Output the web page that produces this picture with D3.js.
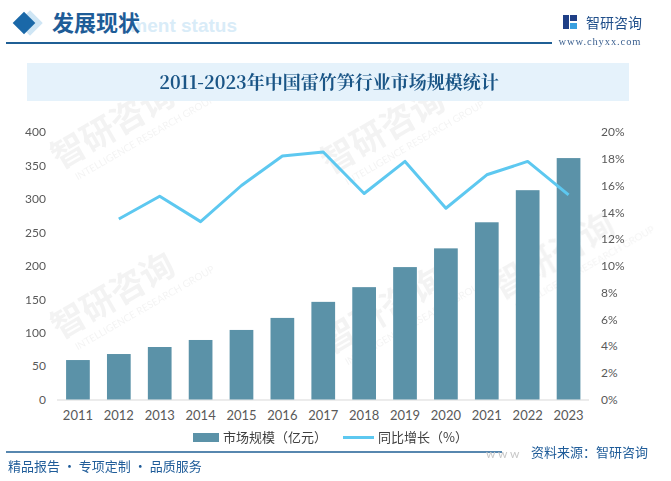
<!DOCTYPE html>
<html><head><meta charset="utf-8">
<script src="https://cdn.jsdelivr.net/npm/d3@7"></script>
<style>body{margin:0;background:#fff}svg{display:block}</style>
</head><body>
<script>
const years = ["2011","2012","2013","2014","2015","2016","2017","2018","2019","2020","2021","2022","2023"];
const marketSize = [59, 68, 78.5, 89, 104, 122, 146, 168, 198, 226, 265, 313, 361];
const growth = [null, 13.5, 15.2, 13.3, 16.0, 18.2, 18.5, 15.4, 17.8, 14.3, 16.8, 17.8, 15.3];
const leftTicks = [0,50,100,150,200,250,300,350,400];
const rightTicks = [0,2,4,6,8,10,12,14,16,18,20];

const W=671,H=481;
const svg=d3.select("body").append("svg").attr("width",W).attr("height",H);
const cjk='"Noto Sans CJK SC","Noto Sans",sans-serif';
const lat='Lato,"Noto Sans",sans-serif';

// watermarks (faint)
const wm=svg.append("g").attr("opacity",0.07);
[[60,170],[330,175],[60,340],[330,355],[500,300]].forEach(([x,y])=>{
  const g=wm.append("g").attr("transform",`translate(${x},${y}) rotate(-30)`);
  g.append("text").text("智研咨询").attr("font-family",cjk).attr("font-size",34).attr("fill","#555").attr("font-weight","bold");
  g.append("text").text("INTELLIGENCE RESEARCH GROUP").attr("y",18).attr("x",10).attr("font-family",lat).attr("font-size",10).attr("fill","#555");
});

// header
svg.append("rect").attr("x",-9).attr("y",-9).attr("width",18).attr("height",18).attr("fill","#cfe6f5").attr("transform","translate(30,23) rotate(45)");
svg.append("rect").attr("x",-8).attr("y",-8).attr("width",16).attr("height",16).attr("fill","#1a68a8").attr("transform","translate(24,23) rotate(45)");
svg.append("text").text("ment status").attr("x",237).attr("y",32).attr("text-anchor","end")
  .attr("font-family",'"Liberation Sans",Arial,sans-serif').attr("font-weight","bold").attr("font-size",19).attr("fill","#d9ecf8");
svg.append("text").text("发展现状").attr("x",52).attr("y",31).attr("font-family",cjk).attr("font-weight","bold").attr("font-size",22).attr("fill","#1e5c97");
svg.append("line").attr("x1",6).attr("x2",552).attr("y1",43).attr("y2",43).attr("stroke","#1f5f95").attr("stroke-width",2);
// logo
const lg=svg.append("g").attr("transform","translate(563,15)");
lg.append("rect").attr("width",6).attr("height",14).attr("fill","#1f3f86");
lg.append("rect").attr("x",7).attr("width",7).attr("height",6).attr("fill","#1f3f86");
lg.append("rect").attr("x",7).attr("y",8).attr("width",7).attr("height",6).attr("fill","#39a0e0");
svg.append("text").text("智研咨询").attr("x",586).attr("y",28).attr("font-family",cjk).attr("font-size",14).attr("fill","#1f4e8a");
svg.append("text").text("www.chyxx.com").attr("x",600).attr("y",45).attr("text-anchor","middle").attr("font-family",'"Liberation Serif",serif').attr("font-size",10.5).attr("fill","#3a5f8f").attr("letter-spacing",0.9);

// title box
svg.append("rect").attr("x",27).attr("y",63).attr("width",602).attr("height",38).attr("fill","#e5f2fb");
svg.append("text").text("2011-2023年中国雷竹笋行业市场规模统计").attr("x",329).attr("y",89).attr("text-anchor","middle")
  .attr("font-family",'"Noto Serif CJK SC","Liberation Serif",'+cjk).attr("font-weight","bold").attr("font-size",18).attr("fill","#1a5586");

// scales
const x=d3.scaleBand().domain(years).range([57.5,589]).paddingInner(0.42).paddingOuter(0.21);
const yL=d3.scaleLinear().domain([0,400]).range([399.5,132]);
const yR=d3.scaleLinear().domain([0,20]).range([399.5,132]);

const axL=svg.append("g").attr("transform","translate(50,0)")
  .call(d3.axisLeft(yL).tickValues(leftTicks).tickSize(0).tickPadding(4));
const axR=svg.append("g").attr("transform","translate(597,0)")
  .call(d3.axisRight(yR).tickValues(rightTicks).tickSize(0).tickPadding(4).tickFormat(d=>d+"%"));
const axB=svg.append("g").attr("transform","translate(0,399.5)")
  .call(d3.axisBottom(x).tickSize(0).tickPadding(11));
[axL,axR,axB].forEach(a=>{a.select(".domain").remove();a.selectAll("text").attr("font-family",lat).attr("font-size",12).attr("fill","#595959");});
axB.selectAll("text").attr("font-size",13);
svg.append("line").attr("x1",57).attr("x2",589).attr("y1",400).attr("y2",400).attr("stroke","#d9d9d9").attr("stroke-width",1);

// bars
svg.append("g").selectAll("rect").data(years).join("rect")
  .attr("x",d=>x(d)).attr("width",x.bandwidth())
  .attr("y",(d,i)=>yL(marketSize[i])).attr("height",(d,i)=>yL(0)-yL(marketSize[i]))
  .attr("fill","#5b92a8");

// line
const line=d3.line().defined(d=>d.v!=null).x(d=>x(d.y)+x.bandwidth()/2).y(d=>yR(d.v));
svg.append("path").datum(years.map((y,i)=>({y,v:growth[i]})))
  .attr("d",line).attr("fill","none").attr("stroke","#5dc8f0").attr("stroke-width",3).attr("stroke-linejoin","round");

// legend
svg.append("rect").attr("x",193).attr("y",433).attr("width",26).attr("height",9).attr("fill","#5b92a8");
svg.append("text").text("市场规模（亿元）").attr("x",223).attr("y",442).attr("font-family",cjk).attr("font-size",13).attr("fill","#404040");
svg.append("line").attr("x1",343).attr("x2",374).attr("y1",437.5).attr("y2",437.5).attr("stroke","#5dc8f0").attr("stroke-width",3);
svg.append("text").text("同比增长（%）").attr("x",378).attr("y",442).attr("font-family",cjk).attr("font-size",13).attr("fill","#404040");

// footer
svg.append("line").attr("x1",6).attr("x2",502).attr("y1",452).attr("y2",452).attr("stroke","#1f5f95").attr("stroke-width",1.5);
svg.append("text").text("w w w").attr("x",486).attr("y",458).attr("font-family",lat).attr("font-size",12).attr("fill","#c8c8c8");
svg.append("text").text("精品报告 · 专项定制 · 品质服务").attr("x",8).attr("y",471).attr("font-family",cjk).attr("font-size",13).attr("fill","#1f5c99");
svg.append("text").text("资料来源：智研咨询").attr("x",531).attr("y",457).attr("font-family",cjk).attr("font-size",13).attr("fill","#1f5c99");
</script>
</body></html>
